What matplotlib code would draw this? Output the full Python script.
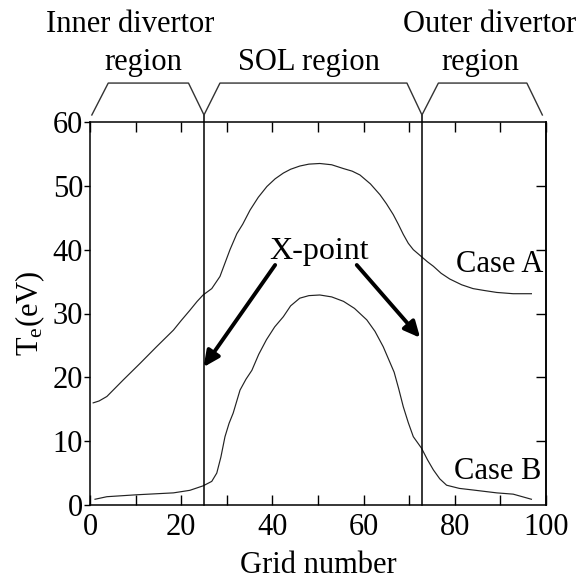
import matplotlib
matplotlib.use("Agg")
import matplotlib.pyplot as plt

plt.rcParams['font.family'] = ['Liberation Serif', 'DejaVu Serif']
plt.rcParams['mathtext.fontset'] = 'custom'
plt.rcParams['mathtext.rm'] = 'Liberation Serif'
plt.rcParams['mathtext.it'] = 'Liberation Serif:italic'

# Case A
case_a_x = [0.7, 2.0, 3.7, 5.5, 7.3, 11.0, 14.6, 18.3, 20.0, 21.9, 23.5, 24.8, 26.7, 28.5,
            29.6, 30.7, 32.2, 33.5, 35.1, 36.9, 38.8, 40.6, 42.4, 44.0, 46.0, 48.0, 50.4,
            53.0, 55.6, 57.5, 59.2, 61.5, 63.6, 65.0, 66.5, 67.6, 68.7, 69.8, 70.9, 72.7,
            74.0, 75.3, 77.0, 78.9, 81.5, 84.0, 86.5, 89.2, 92.8, 96.8]
case_a_y = [16.0, 16.3, 17.0, 18.3, 19.6, 22.2, 24.8, 27.4, 28.9, 30.5, 31.9, 32.9, 33.9, 35.8,
            37.9, 40.0, 42.5, 44.0, 46.2, 48.2, 49.9, 51.1, 52.0, 52.6, 53.1, 53.4, 53.5,
            53.3, 52.7, 52.3, 51.7, 50.3, 48.6, 47.2, 45.5, 44.0, 42.4, 41.0, 40.0, 38.9,
            38.1, 37.4, 36.3, 35.4, 34.5, 33.9, 33.6, 33.3, 33.1, 33.1]
# Case B
case_b_x = [1.1, 3.7, 10.2, 18.3, 21.9, 24.8, 26.7, 27.8, 28.7, 29.6, 30.5, 31.4, 32.9, 34.2,
            35.5, 37.0, 38.7, 40.5, 42.4, 44.0, 46.0, 48.0, 50.4, 53.0, 55.6, 58.0, 60.7,
            62.5, 64.3, 65.5, 66.7, 67.7, 68.7, 69.8, 70.9, 72.7, 74.0, 75.3, 76.7, 78.2,
            81.0, 84.0, 89.2, 92.8, 96.8]
case_b_y = [0.9, 1.3, 1.6, 1.9, 2.3, 3.0, 3.7, 5.0, 7.5, 10.7, 12.8, 14.4, 18.0, 19.7,
            21.1, 23.6, 25.9, 27.9, 29.5, 31.2, 32.4, 32.8, 32.9, 32.6, 31.9, 30.8, 29.0,
            27.2, 24.8, 22.8, 20.8, 18.2, 15.4, 12.9, 10.7, 8.9, 7.1, 5.5, 4.1, 3.1,
            2.6, 2.35, 1.9, 1.7, 0.9]

xpoint_lines = [25, 72.8]
bracket_x = [0.4, 4.0, 21.6, 25.0, 28.5, 69.5, 72.8, 76.4, 95.8, 99.2]
bracket_y = [61.1, 66.1, 66.1, 61.1, 66.1, 66.1, 61.1, 66.1, 66.1, 61.1]

fig = plt.figure(figsize=(5.81, 5.86), dpi=100)
ax = fig.add_axes([90/581, 81/586, 456/581, 383/586])

ax.plot(case_a_x, case_a_y, color='#222222', lw=0.85)
ax.plot(case_b_x, case_b_y, color='#222222', lw=0.85)

for xv in xpoint_lines:
    ax.plot([xv, xv], [0, 61.1], color='black', lw=1.1, clip_on=False)

ax.plot(bracket_x, bracket_y, color='#333333', lw=1.0, clip_on=False)

fs = 22
ax.text(8.8, 75.2, "Inner divertor", ha='center', va='center', fontsize=fs, clip_on=False)
ax.text(11.6, 69.3, "region", ha='center', va='center', fontsize=fs, clip_on=False)
ax.text(48.1, 69.3, "SOL region", ha='center', va='center', fontsize=fs, clip_on=False)
ax.text(87.7, 75.2, "Outer divertor", ha='center', va='center', fontsize=fs, clip_on=False)
ax.text(85.5, 69.3, "region", ha='center', va='center', fontsize=fs, clip_on=False)

ax.text(50.2, 39.7, "X-point", ha='center', va='center', fontsize=23)
arrow_kw = dict(arrowstyle='-|>,head_length=0.95,head_width=0.45', color='black', lw=2.8,
                shrinkA=0, shrinkB=0)
ax.annotate("", xy=(24.9, 21.6), xytext=(40.6, 37.6), arrowprops=arrow_kw)
ax.annotate("", xy=(72.4, 26.2), xytext=(58.5, 37.6), arrowprops=arrow_kw)

ax.text(89.9, 37.6, "Case A", ha='center', va='center', fontsize=fs)
ax.text(89.5, 5.2, "Case B", ha='center', va='center', fontsize=fs)

ax.set_xlim(0, 100)
ax.set_ylim(0, 60)
ax.set_xticks([0, 20, 40, 60, 80, 100])
ax.set_xticks([10, 30, 50, 70, 90], minor=True)
ax.set_yticks([0, 10, 20, 30, 40, 50, 60])

for s in ax.spines.values():
    s.set_linewidth(1.1)

ax.tick_params(axis='x', which='both', direction='in', top=True, length=7, width=1.0,
               labelsize=fs, pad=6)
ax.tick_params(axis='y', which='both', direction='out', left=True, right=False, length=4,
               width=1.0, labelsize=fs, pad=1)
axr = ax.secondary_yaxis('right')
axr.set_yticks([10, 20, 30, 40, 50])
axr.tick_params(direction='in', length=7, width=1.0, labelright=False)
axr.spines['right'].set_linewidth(1.1)

ax.set_xlabel("Grid number", fontsize=fs, labelpad=6)
ax.set_ylabel(r"T$_\mathrm{e}$(eV)", fontsize=fs, labelpad=4)

fig.savefig("out.png", dpi=100)
